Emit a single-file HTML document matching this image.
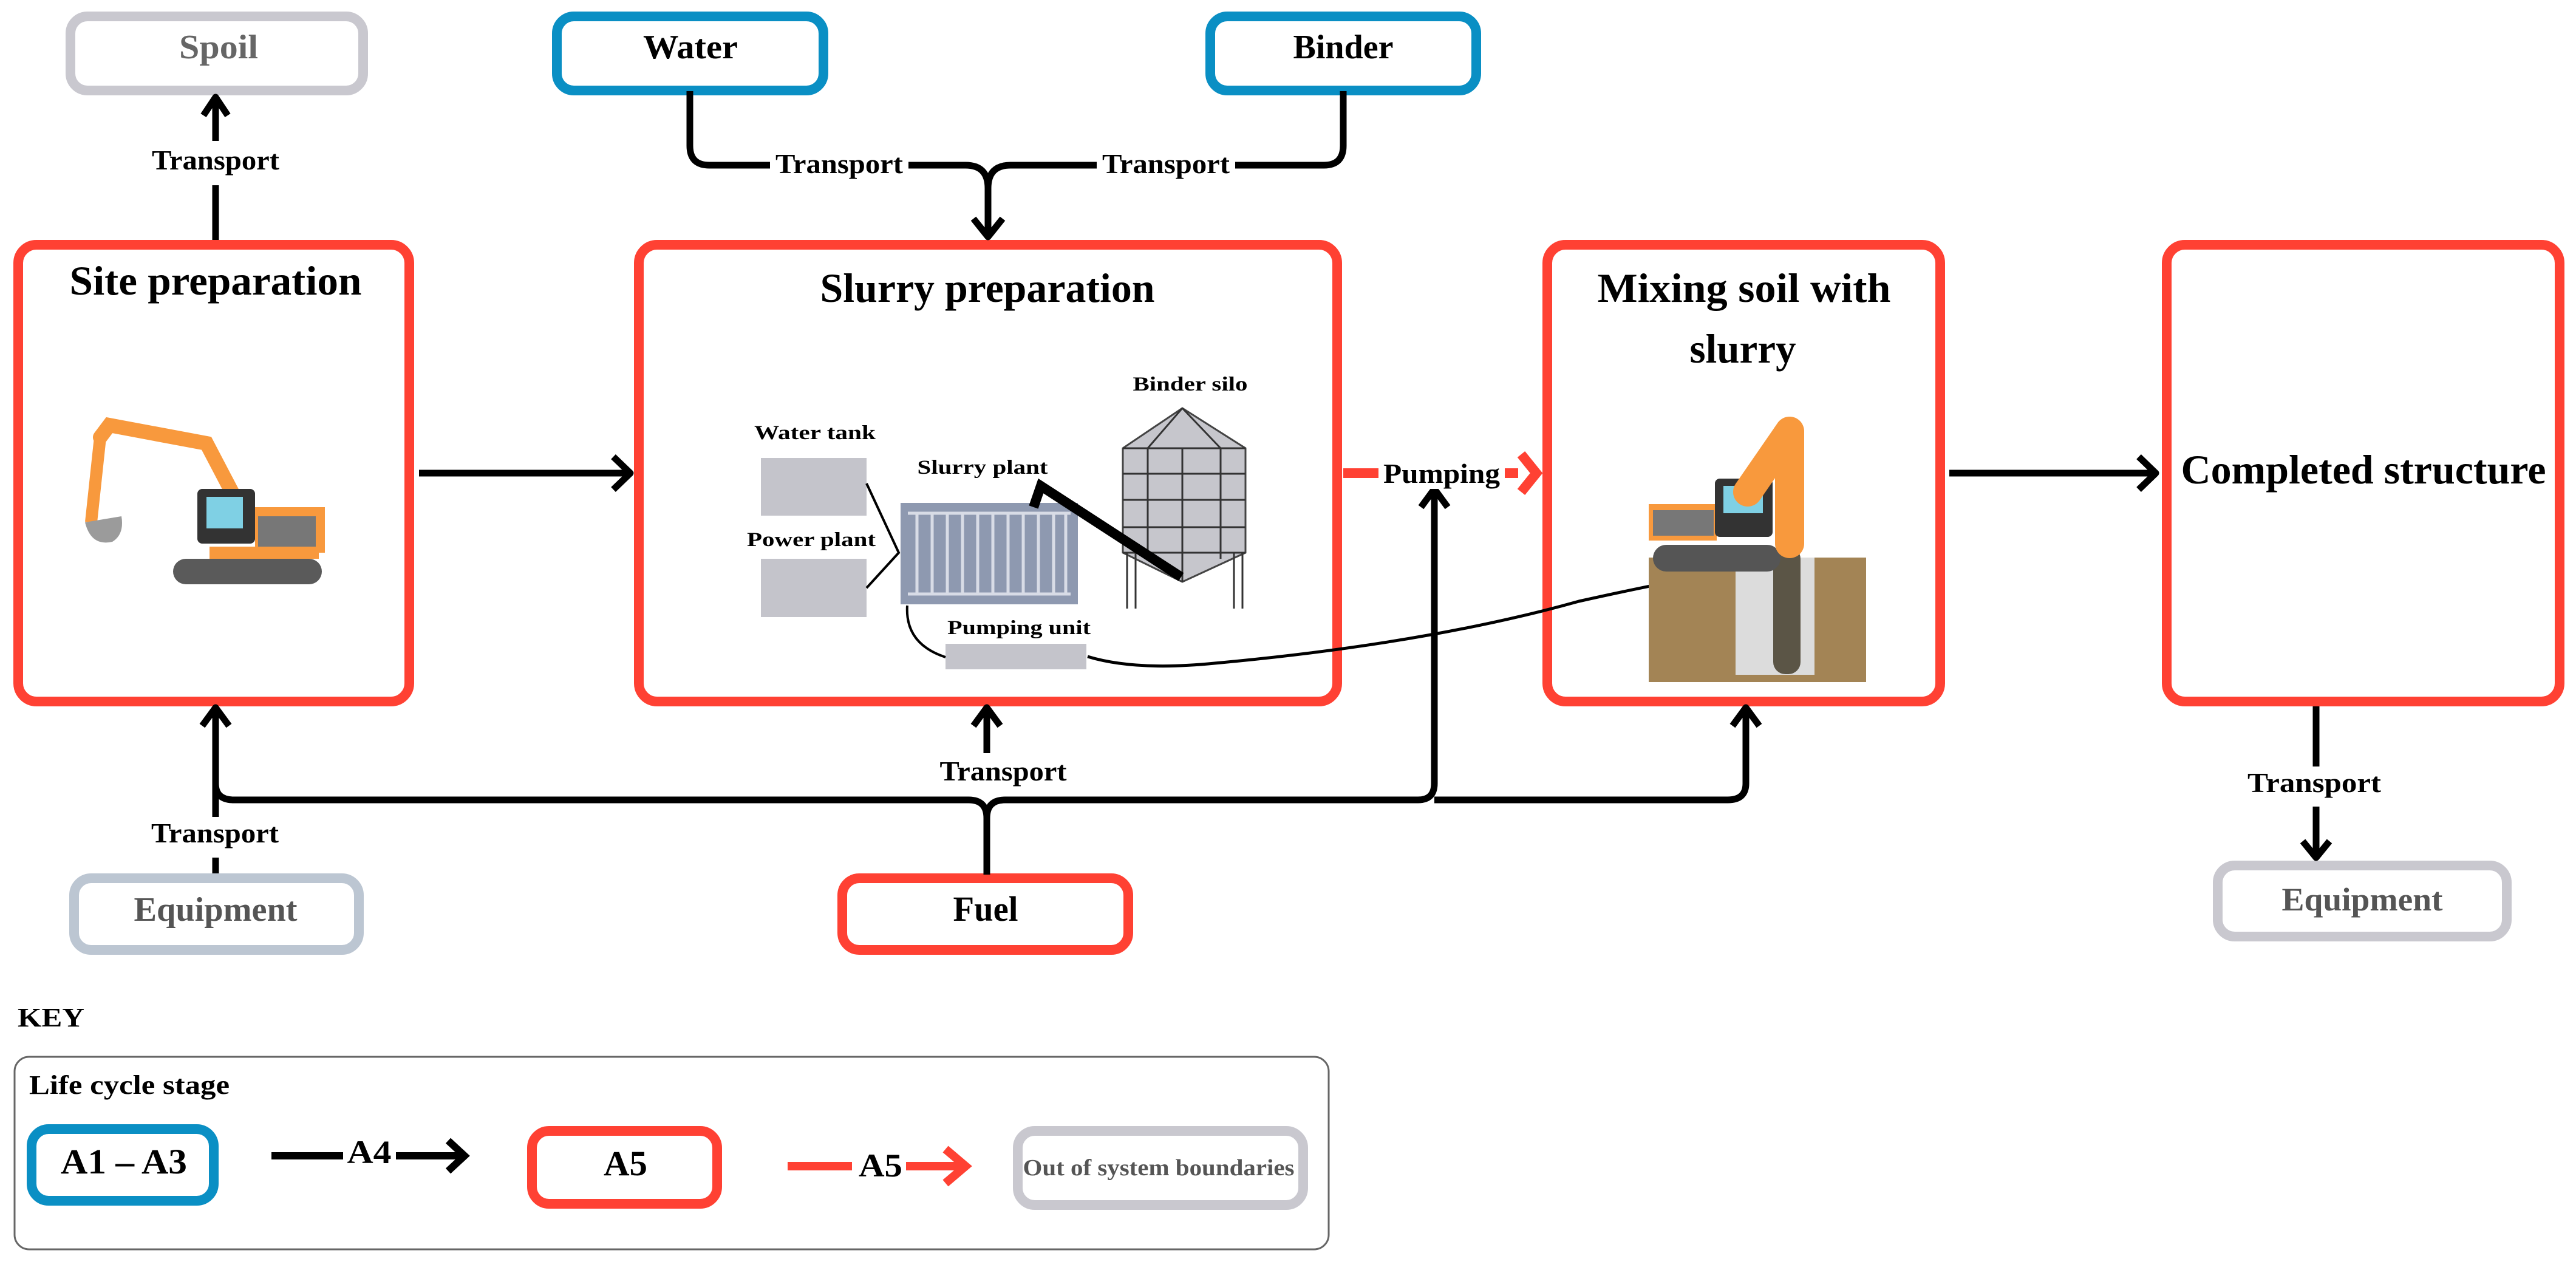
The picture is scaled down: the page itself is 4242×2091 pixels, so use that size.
<!DOCTYPE html>
<html><head><meta charset="utf-8"><style>
html,body{margin:0;padding:0;background:#fff;}
svg{display:block;}
text{font-family:"Liberation Serif",serif;font-weight:bold;fill:#000;}
</style></head><body>
<svg width="4242" height="2091" viewBox="0 0 4242 2091" xmlns="http://www.w3.org/2000/svg">
<rect width="4242" height="2091" fill="#fff"/>
<g fill="none" stroke-width="16">
<rect x="116" y="27" width="482" height="122" rx="28" stroke="#c9c8cf"/>
<rect x="917" y="27" width="439" height="122" rx="28" stroke="#0a8fc4"/>
<rect x="1993" y="27" width="438" height="122" rx="28" stroke="#0a8fc4"/>
<rect x="30" y="403" width="644" height="752" rx="30" stroke="#ff4133"/>
<rect x="1052" y="403" width="1150" height="752" rx="30" stroke="#ff4133"/>
<rect x="2548" y="403" width="647" height="752" rx="30" stroke="#ff4133"/>
<rect x="3568" y="403" width="647" height="752" rx="30" stroke="#ff4133"/>
<rect x="122" y="1446" width="469" height="118" rx="28" stroke="#bcc6d2"/>
<rect x="1387" y="1446" width="471" height="118" rx="28" stroke="#ff4133"/>
<rect x="3652" y="1425" width="476" height="117" rx="28" stroke="#c9c8cf"/>
</g>
<g fill="none" stroke="#000" stroke-width="11" stroke-linejoin="round">
<path d="M355 395V305M355 232V162"/>
<path d="M335 190L355 160L375 190"/>
<path d="M690 779H1035M1010 752L1038 779L1010 806"/>
<path d="M1136 150V240Q1136 272 1168 272H1590Q1627 272 1627 310V388"/>
<path d="M2212 150V240Q2212 272 2180 272H1664Q1627 272 1627 310"/>
<path d="M1603 360L1627 390L1651 360"/>
<path d="M3210 779H3550M3522 752L3550 779L3522 806"/>
<path d="M355 1438V1412M355 1345V1168M333 1195L355 1165L377 1195"/>
<path d="M355 1290Q355 1317 385 1317H1595Q1625 1317 1625 1347V1440"/>
<path d="M1625 1347Q1625 1317 1655 1317H2335Q2362 1317 2362 1290V805"/>
<path d="M2340 835L2362 805L2384 835"/>
<path d="M2362 1317H2845Q2875 1317 2875 1290V1168M2853 1195L2875 1165L2897 1195"/>
<path d="M1625 1240V1168M1603 1195L1625 1165L1647 1195"/>
<path d="M3814 1163V1262M3814 1328V1412M3792 1385L3814 1412L3836 1385"/>
</g>
<path d="M2212 779H2272" stroke="#ff4133" stroke-width="16"/>
<path d="M2478 779H2500M2505 748L2530 779L2505 810" stroke="#ff4133" stroke-width="16" fill="none"/>
<rect x="1253" y="754" width="174" height="95" fill="#c4c4cb"/>
<rect x="1253" y="920" width="174" height="96" fill="#c4c4cb"/>
<rect x="1483" y="828" width="292" height="167" fill="#8e99b0"/>
<g stroke="#d8dce6" stroke-width="5">
<path d="M1495 845H1763M1495 978H1763"/>
<path d="M1510 845V978M1535 845V978M1560 845V978M1585 845V978M1610 845V978M1635 845V978M1660 845V978M1685 845V978M1710 845V978M1735 845V978M1755 845V978"/>
</g>
<path d="M1427 796L1480 910L1427 968" stroke="#000" stroke-width="4" fill="none"/>
<path d="M1849 738L1947 672L2051 738V910L1947 958L1849 910Z" fill="#c6c6cc" stroke="#444" stroke-width="3"/>
<g stroke="#333" stroke-width="3" fill="none">
<path d="M1849 738H2051M1849 780H2051M1849 823H2051M1849 868H2051M1849 910H2051"/>
<path d="M1890 738V920M1947 738V958M2010 738V920M1947 672L1890 738M1947 672L2010 738"/>
<path d="M1856 910V1002M2046 910V1002M1870 910V1002M2032 910V1002"/>
</g>
<path d="M1702 835L1714 800L1945 950" stroke="#000" stroke-width="16" fill="none"/>
<rect x="1557" y="1060" width="232" height="42" fill="#c4c4cb"/>
<path d="M1494 997Q1490 1060 1557 1082" stroke="#000" stroke-width="4" fill="none"/>
<path d="M1791 1081Q1870 1105 2000 1092Q2350 1060 2600 990Q2780 950 2840 944" stroke="#000" stroke-width="5" fill="none"/>
<g>
<path d="M165 720L180 700L340 730L395 835" stroke="#f8993d" stroke-width="24" fill="none" stroke-linecap="round"/>
<path d="M165 720L150 860" stroke="#f8993d" stroke-width="20" fill="none"/>
<path d="M140 860Q150 900 185 892Q205 880 200 850Z" fill="#9b9b9b"/>
<rect x="325" y="805" width="95" height="90" rx="8" fill="#333"/>
<rect x="340" y="818" width="60" height="52" fill="#7fd0e4"/>
<rect x="420" y="835" width="115" height="75" fill="#f8993d"/>
<rect x="425" y="850" width="95" height="52" fill="#777"/>
<rect x="345" y="900" width="180" height="20" fill="#f8993d"/>
<rect x="285" y="920" width="245" height="42" rx="21" fill="#5a5a5a"/>
</g>
<rect x="2715" y="918" width="358" height="205" fill="#a38455"/>
<rect x="2858" y="918" width="130" height="193" fill="#dcdcdc"/>
<rect x="2920" y="900" width="45" height="210" rx="20" fill="#5b5546"/>
<rect x="2722" y="897" width="210" height="44" rx="22" fill="#555"/>
<rect x="2715" y="830" width="112" height="60" fill="#f8993d"/>
<rect x="2722" y="840" width="100" height="42" fill="#777"/>
<rect x="2824" y="788" width="95" height="96" rx="8" fill="#333"/>
<rect x="2838" y="800" width="65" height="45" fill="#7fd0e4"/>
<path d="M2947 710V895M2947 710L2878 810" stroke="#f8993d" stroke-width="48" stroke-linecap="round" fill="none"/>
<rect x="24" y="1740" width="2164" height="317" rx="24" fill="none" stroke="#666" stroke-width="3"/>
<g fill="none" stroke-width="16">
<rect x="52" y="1859" width="300" height="118" rx="28" stroke="#0a8fc4"/>
<rect x="876" y="1862" width="305" height="120" rx="28" stroke="#ff4133"/>
<rect x="1676" y="1862" width="470" height="122" rx="28" stroke="#c9c8cf"/>
</g>
<path d="M447 1903H565M652 1903H760M738 1878L765 1903L738 1928" stroke="#000" stroke-width="12" fill="none"/>
<path d="M1297 1920H1403M1492 1920H1580M1557 1892L1590 1920L1557 1948" stroke="#ff4133" stroke-width="14" fill="none"/>
<g fill="#fff">
<rect x="240" y="235" width="230" height="65"/>
<rect x="1268" y="240" width="228" height="65"/>
<rect x="1806" y="240" width="228" height="65"/>
<rect x="240" y="1348" width="230" height="60"/>
<rect x="1540" y="1245" width="225" height="60"/>
<rect x="3695" y="1265" width="235" height="60"/>
<rect x="2270" y="745" width="208" height="60"/>
</g>
<text x="360" y="96" font-size="56" text-anchor="middle" textLength="130" lengthAdjust="spacingAndGlyphs" style="fill:#666">Spoil</text>
<text x="1137" y="96" font-size="56" text-anchor="middle" textLength="156" lengthAdjust="spacingAndGlyphs">Water</text>
<text x="2212" y="96" font-size="56" text-anchor="middle" textLength="165" lengthAdjust="spacingAndGlyphs">Binder</text>
<g font-size="46" text-anchor="middle">
<text x="355" y="279" textLength="210" lengthAdjust="spacingAndGlyphs">Transport</text>
<text x="1382" y="285" textLength="210" lengthAdjust="spacingAndGlyphs">Transport</text>
<text x="1920" y="285" textLength="210" lengthAdjust="spacingAndGlyphs">Transport</text>
<text x="354" y="1387" textLength="210" lengthAdjust="spacingAndGlyphs">Transport</text>
<text x="1652" y="1285" textLength="209" lengthAdjust="spacingAndGlyphs">Transport</text>
<text x="3811" y="1304" textLength="220" lengthAdjust="spacingAndGlyphs">Transport</text>
<text x="2374" y="795" textLength="192" lengthAdjust="spacingAndGlyphs">Pumping</text>
</g>
<g font-size="68" text-anchor="middle">
<text x="355" y="485" textLength="481" lengthAdjust="spacingAndGlyphs">Site preparation</text>
<text x="1626" y="497" textLength="551" lengthAdjust="spacingAndGlyphs">Slurry preparation</text>
<text x="2872" y="497" textLength="483" lengthAdjust="spacingAndGlyphs">Mixing soil with</text>
<text x="2870" y="597" textLength="175" lengthAdjust="spacingAndGlyphs">slurry</text>
<text x="3892" y="796" textLength="601" lengthAdjust="spacingAndGlyphs">Completed structure</text>
</g>
<g font-size="33" text-anchor="middle">
<text x="1342" y="723" textLength="200" lengthAdjust="spacingAndGlyphs">Water tank</text>
<text x="1336" y="899" textLength="212" lengthAdjust="spacingAndGlyphs">Power plant</text>
<text x="1618" y="780" textLength="215" lengthAdjust="spacingAndGlyphs">Slurry plant</text>
<text x="1960" y="643" textLength="189" lengthAdjust="spacingAndGlyphs">Binder silo</text>
<text x="1678" y="1044" textLength="236" lengthAdjust="spacingAndGlyphs">Pumping unit</text>
</g>
<text x="355" y="1516" font-size="56" text-anchor="middle" textLength="269" lengthAdjust="spacingAndGlyphs" style="fill:#555">Equipment</text>
<text x="1623" y="1516" font-size="58" text-anchor="middle" textLength="107" lengthAdjust="spacingAndGlyphs">Fuel</text>
<text x="3890" y="1499" font-size="54" text-anchor="middle" textLength="265" lengthAdjust="spacingAndGlyphs" style="fill:#555">Equipment</text>
<text x="29" y="1690" font-size="44" textLength="110" lengthAdjust="spacingAndGlyphs">KEY</text>
<text x="48" y="1801" font-size="44" textLength="330" lengthAdjust="spacingAndGlyphs">Life cycle stage</text>
<text x="204" y="1932" font-size="58" text-anchor="middle" textLength="208" lengthAdjust="spacingAndGlyphs">A1 – A3</text>
<text x="608" y="1915" font-size="54" text-anchor="middle" textLength="73" lengthAdjust="spacingAndGlyphs">A4</text>
<text x="1030" y="1935" font-size="58" text-anchor="middle" textLength="72" lengthAdjust="spacingAndGlyphs">A5</text>
<text x="1450" y="1937" font-size="54" text-anchor="middle" textLength="72" lengthAdjust="spacingAndGlyphs">A5</text>
<text x="1908" y="1935" font-size="38" text-anchor="middle" textLength="447" lengthAdjust="spacingAndGlyphs" style="fill:#555">Out of system boundaries</text>
</svg>
</body></html>
